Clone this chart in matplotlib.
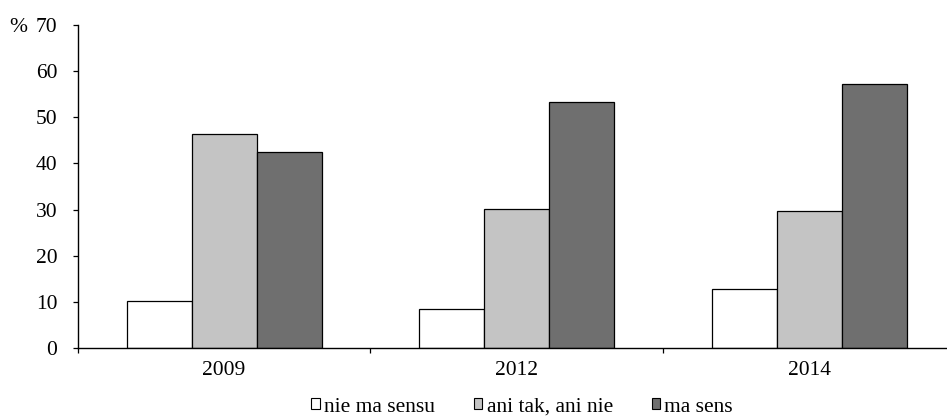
#!/usr/bin/env python3

import numpy as np
import matplotlib
matplotlib.use('Agg')
import matplotlib.pyplot as plt
from matplotlib.patches import Patch

plt.rcParams['font.family'] = ['Liberation Serif', 'DejaVu Serif']

# Data
years = ['2009', '2012', '2014']
series_names = ['nie ma sensu', 'ani tak, ani nie', 'ma sens']
nie_ma_sensu = [10.2, 8.4, 12.8]
ani_tak_ani_nie = [46.3, 30.2, 29.7]
ma_sens = [42.4, 53.3, 57.2]
y_ticks = [0, 10, 20, 30, 40, 50, 60, 70]

colors = ['#ffffff', '#c4c4c4', '#6f6f6f']
fs = 15.5

fig = plt.figure(figsize=(9.47, 4.17), dpi=100)
# the axes run a little past the right edge of the figure
ax = fig.add_axes([0.082, 0.1655, 0.9275, 0.7746])

x = np.arange(len(years))
width = 0.222
for i, (vals, col) in enumerate(zip([nie_ma_sensu, ani_tak_ani_nie, ma_sens], colors)):
    ax.bar(x + (i - 1) * width, vals, width, color=col, edgecolor='black',
           linewidth=0.9, zorder=2)

ax.set_xlim(-0.5, len(years) - 0.5)
ax.set_ylim(0, 70)

# Category separators as major ticks, labels on minor ticks at centres
ax.set_xticks(np.arange(len(years) + 1) - 0.5)
ax.set_xticklabels([])
ax.set_xticks(x, minor=True)
ax.set_xticklabels(years, minor=True, fontsize=fs)
ax.tick_params(axis='x', which='major', direction='out', length=3.6, width=0.9)
ax.tick_params(axis='x', which='minor', length=0, pad=9.4)

ax.set_yticks(y_ticks)
ax.set_yticklabels([str(t) for t in y_ticks], fontsize=fs)
ax.tick_params(axis='y', direction='out', length=3.6, width=0.9, pad=11)

for side in ['top', 'right']:
    ax.spines[side].set_visible(False)
for side in ['left', 'bottom']:
    ax.spines[side].set_linewidth(1.0)
    ax.spines[side].set_zorder(3)

# unit sign on the same line as the top tick label
ax.text(18 / 947, 70, '%', fontsize=fs, ha='center', va='center_baseline',
        transform=ax.get_yaxis_transform().__class__(fig.transFigure, ax.transData))

handles = [Patch(facecolor=c, edgecolor='black', linewidth=0.8) for c in colors]
fig.legend(handles, series_names, loc='center', ncol=3,
           bbox_to_anchor=(522 / 947, 1 - 407 / 417), frameon=False,
           fontsize=fs, handlelength=0.4, handleheight=0.4,
           handletextpad=0.2, columnspacing=1.8, borderpad=0)

fig.savefig('out.png', dpi=100)
